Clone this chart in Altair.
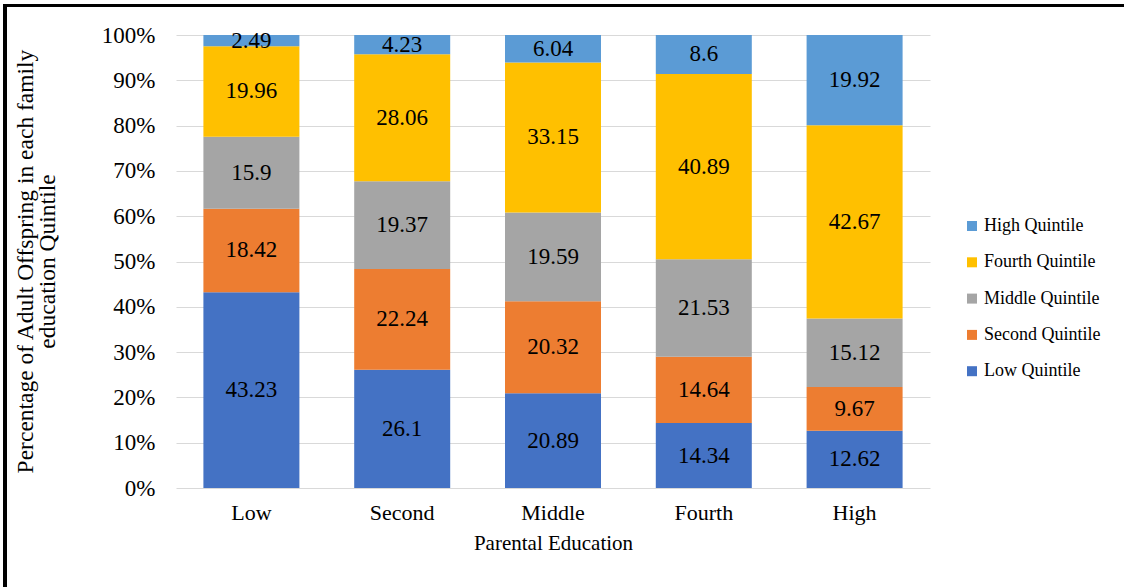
import altair as alt
import pandas as pd

# Parental education groups (x categories)
parental = ["Low", "Second", "Middle", "Fourth", "High"]

# Offspring education quintiles, bottom of the stack first
quintiles = ["Low Quintile", "Second Quintile", "Middle Quintile",
             "Fourth Quintile", "High Quintile"]

# Percent of adult offspring in each quintile, one list per quintile
low_q = [43.23, 26.1, 20.89, 14.34, 12.62]
second_q = [18.42, 22.24, 20.32, 14.64, 9.67]
middle_q = [15.9, 19.37, 19.59, 21.53, 15.12]
fourth_q = [19.96, 28.06, 33.15, 40.89, 42.67]
high_q = [2.49, 4.23, 6.04, 8.6, 19.92]

series = [low_q, second_q, middle_q, fourth_q, high_q]
colors = ["#4472C4", "#ED7D31", "#A5A5A5", "#FFC000", "#5B9BD5"]

rows = []
for qi, (q, vals) in enumerate(zip(quintiles, series)):
    for p, v in zip(parental, vals):
        rows.append({"parent": p, "quintile": q, "value": v, "order": qi})
df = pd.DataFrame(rows)

FONT = "Liberation Serif"

base = alt.Chart(df).transform_stack(
    stack="value", groupby=["parent"], as_=["y0", "y1"],
    sort=[alt.SortField("order", order="ascending")]
).transform_calculate(mid="(datum.y0 + datum.y1) / 2")

x_enc = alt.X("parent:N", sort=parental,
              scale=alt.Scale(paddingInner=0.36, paddingOuter=0.18),
              axis=alt.Axis(title="Parental Education", labelAngle=0,
                            domain=False, ticks=False, labelFontSize=22,
                            labelFont=FONT, titleFont=FONT,
                            labelPadding=14, titleFontSize=21,
                            titlePadding=9, labelColor="black",
                            titleColor="black", titleFontWeight="normal"))

bars = base.mark_bar(size=96).encode(
    x=x_enc,
    y=alt.Y("y0:Q", scale=alt.Scale(domain=[0, 100]),
            axis=alt.Axis(title=["Percentage of Adult Offspring in each family",
                                 "education Quintile"],
                          values=list(range(0, 101, 10)),
                          labelExpr="datum.value + '%'",
                          domain=False, ticks=False, labelFontSize=23,
                          labelFont=FONT, titleFont=FONT,
                          labelPadding=21, gridColor="#D9D9D9",
                          titleFontSize=23.5, titleFontWeight="normal",
                          titleX=-163, titleY=226, titleBaseline="top",
                          titleLineHeight=22, titleColor="black",
                          labelColor="black")),
    y2="y1:Q",
    color=alt.Color("quintile:N",
                    scale=alt.Scale(domain=quintiles[::-1], range=colors[::-1]),
                    legend=alt.Legend(title=None, orient="none",
                                      legendX=787, legendY=182,
                                      symbolType="square", symbolSize=100,
                                      symbolStrokeWidth=0, labelFont=FONT,
                                      labelFontSize=18, labelColor="black",
                                      rowPadding=18.3, labelOffset=3)),
)

labels = base.mark_text(fontSize=23, color="black", font=FONT).encode(
    x=alt.X("parent:N", sort=parental),
    y=alt.Y("mid:Q"),
    text=alt.Text("value:Q"),
)

# Page frame lines
frame_top = alt.Chart(df).mark_rule(color="black", strokeWidth=3).encode(
    x=alt.value(-172), x2=alt.value(960), y=alt.value(-29.5))
frame_left = alt.Chart(df).mark_rule(color="black", strokeWidth=3).encode(
    x=alt.value(-171), y=alt.value(-31), y2=alt.value(560))

chart = alt.layer(bars, labels, frame_top, frame_left).properties(
    width=754, height=453,
    autosize=alt.AutoSizeParams(type="none"),
    padding={"left": 176, "top": 35, "right": 194, "bottom": 99},
).configure(font=FONT).configure_view(stroke=None)

chart.save("out.html", embed_options={"renderer": "svg", "actions": False})
